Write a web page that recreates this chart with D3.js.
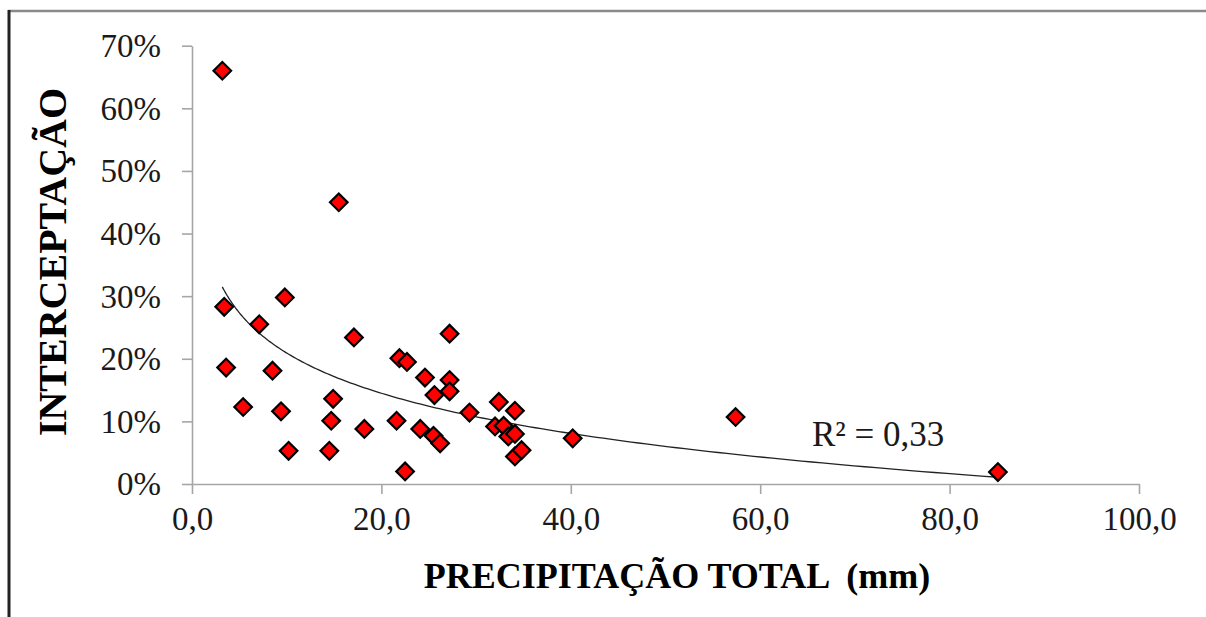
<!DOCTYPE html>
<html>
<head>
<meta charset="utf-8">
<script src="https://cdn.jsdelivr.net/npm/d3@7"></script>
<style>
  html, body { margin: 0; padding: 0; background: #fff; }
  svg { display: block; }
  text { font-family: "Liberation Serif", "Times New Roman", serif; }
</style>
</head>
<body>
<svg id="chart" width="1206" height="617"></svg>
<script>
// Precipitação total (mm) per event
const precipitation = [
  3.2, 3.4, 3.6, 5.4, 7.1, 8.5, 9.4, 9.8, 10.2, 14.5,
  14.7, 14.9, 15.5, 17.1, 18.2, 21.6, 21.9, 22.7, 22.5, 24.1,
  24.6, 25.5, 25.6, 26.2, 27.2, 27.2, 27.2, 29.3, 32.0, 32.4,
  32.9, 33.4, 34.1, 34.1, 34.1, 34.8, 40.2, 57.4, 85.1
];
// Interceptação (%) per event
const interception = [
  66.0, 28.3, 18.6, 12.3, 25.5, 18.1, 11.6, 29.8, 5.3, 5.3,
  10.1, 13.6, 45.0, 23.4, 8.8, 10.1, 20.1, 19.5, 2.0, 8.8,
  17.0, 7.7, 14.2, 6.5, 24.0, 16.6, 14.8, 11.4, 9.2, 13.1,
  9.3, 7.6, 11.7, 8.0, 4.4, 5.4, 7.3, 10.7, 1.9
];
const xTicks = [0, 20, 40, 60, 80, 100];
const xTickLabels = ["0,0", "20,0", "40,0", "60,0", "80,0", "100,0"];
const yTicks = [0, 10, 20, 30, 40, 50, 60, 70];
const yTickLabels = ["0%", "10%", "20%", "30%", "40%", "50%", "60%", "70%"];
const r2Label = "R² = 0,33";
const xTitle = "PRECIPITAÇÃO TOTAL  (mm)";
const yTitle = "INTERCEPTAÇÃO";

const svg = d3.select("#chart");

// outer frame (top and left edges)
svg.append("line").attr("x1", 8).attr("x2", 1206).attr("y1", 11).attr("y2", 11)
  .attr("stroke", "#8a8a8a").attr("stroke-width", 2.5);
svg.append("line").attr("x1", 9).attr("x2", 9).attr("y1", 10).attr("y2", 617)
  .attr("stroke", "#222").attr("stroke-width", 3);

const x = d3.scaleLinear().domain([0, 100]).range([192, 1139]);
const y = d3.scaleLinear().domain([0, 70]).range([484, 45.7]);

const axisColor = "#a6a6a6";

// y axis
const yAxis = svg.append("g").attr("transform", `translate(${x(0)},0)`)
  .call(d3.axisLeft(y).tickValues(yTicks).tickSize(10).tickSizeOuter(0)
    .tickFormat((d, i) => yTickLabels[i]));
// x axis
const xAxis = svg.append("g").attr("transform", `translate(0,${y(0)})`)
  .call(d3.axisBottom(x).tickValues(xTicks).tickSize(10).tickSizeOuter(0)
    .tickFormat((d, i) => xTickLabels[i]));

[yAxis, xAxis].forEach(g => {
  g.select(".domain").attr("stroke", axisColor).attr("stroke-width", 1.6);
  g.selectAll(".tick line").attr("stroke", axisColor).attr("stroke-width", 1.6);
  g.selectAll("text").attr("font-family", "Liberation Serif")
    .attr("font-size", 33).attr("fill", "#1a1a1a");
});
yAxis.selectAll("text").attr("x", -31).attr("dy", "0.33em");
xAxis.selectAll("text").attr("y", 23).attr("dy", "0.71em");

// logarithmic trend line fitted by least squares: y = a·ln(x) + b
const lx = precipitation.map(Math.log);
const n = lx.length;
const mx = d3.mean(lx), my = d3.mean(interception);
let sxy = 0, sxx = 0;
for (let i = 0; i < n; i++) {
  sxy += (lx[i] - mx) * (interception[i] - my);
  sxx += (lx[i] - mx) * (lx[i] - mx);
}
const a = sxy / sxx, b = my - a * mx;
const [xmin, xmax] = d3.extent(precipitation);
const trend = d3.range(0, 201).map(k => {
  const xv = xmin * Math.pow(xmax / xmin, k / 200);
  return [xv, a * Math.log(xv) + b];
});
svg.append("path")
  .datum(trend)
  .attr("fill", "none")
  .attr("stroke", "#222")
  .attr("stroke-width", 1.3)
  .attr("d", d3.line().x(d => x(d[0])).y(d => y(d[1])));

// data markers (diamonds)
const diamond = d3.symbol().type(d3.symbolSquare).size(155);
svg.append("g").selectAll("path")
  .data(precipitation.map((p, i) => [p, interception[i]]))
  .join("path")
  .attr("d", diamond)
  .attr("transform", d => `translate(${x(d[0])},${y(d[1])}) rotate(45)`)
  .attr("fill", "#ff0000")
  .attr("stroke", "#000")
  .attr("stroke-width", 2.2);

// R² annotation
svg.append("text")
  .attr("x", 812).attr("y", 446)
  .attr("font-size", 35).attr("fill", "#1a1a1a")
  .text(r2Label);

// axis titles
svg.append("text")
  .attr("x", 677).attr("y", 588)
  .attr("text-anchor", "middle")
  .attr("font-size", 36).attr("font-weight", "bold")
  .style("white-space", "pre")
  .text(xTitle);

svg.append("text")
  .attr("transform", "translate(66,262) rotate(-90)")
  .attr("text-anchor", "middle")
  .attr("font-size", 40).attr("font-weight", "bold")
  .text(yTitle);
</script>
</body>
</html>
